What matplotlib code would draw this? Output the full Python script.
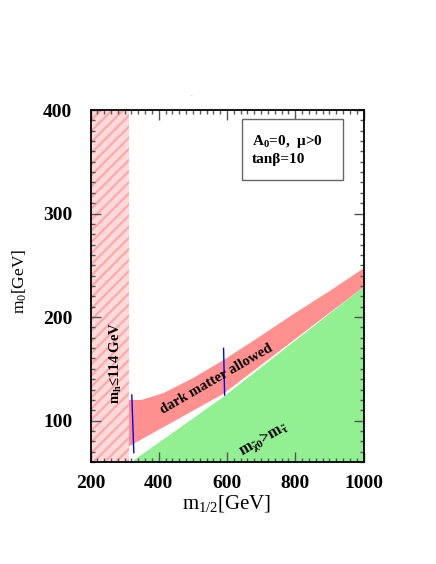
import numpy as np
import matplotlib
matplotlib.use("Agg")
import matplotlib.pyplot as plt
from matplotlib.patches import Rectangle
from matplotlib.ticker import MultipleLocator

plt.rcParams['font.family'] = ['Liberation Serif', 'DejaVu Serif']
plt.rcParams['mathtext.fontset'] = 'custom'
plt.rcParams['mathtext.rm'] = 'Liberation Serif'
plt.rcParams['mathtext.it'] = 'Liberation Serif:italic'
plt.rcParams['mathtext.bf'] = 'Liberation Serif:bold'
plt.rcParams['mathtext.default'] = 'regular'
plt.rcParams['hatch.linewidth'] = 1.6

# m_h <= 114 GeV excluded strip
mh_x = [200, 312]

# stau LSP region (green), upper edge
stau_x = [320, 590, 1000]
stau_y = [60, 123, 229]

# dark matter allowed band (red)
band_top_x = [312, 350, 414, 500, 590, 700, 800, 900, 1000]
band_top_y = [120, 120, 126.6, 141, 158.5, 182, 204, 225, 247]
band_bot_x = [312, 590, 1000]
band_bot_y = [75, 126, 229]

# blue vertical markers
blue1_x = [321, 327]
blue1_y = [124.7, 69]
blue2_x = [590, 593]
blue2_y = [169.8, 124.7]

x_ticks = [200, 400, 600, 800, 1000]
y_ticks = [100, 200, 300, 400]

W, H = 436, 564
fig = plt.figure(figsize=(W / 100, H / 100), dpi=100)
ax = fig.add_axes([90.5 / W, (H - 462) / H, 273 / W, 352 / H])
ax.set_xlim(200, 1000)
ax.set_ylim(60, 400)

# green region
ax.fill_between(stau_x, [60] * len(stau_x), stau_y, facecolor='#92ef92', edgecolor='none', zorder=1)

# red band
poly_x = np.r_[band_top_x, band_bot_x[::-1]]
poly_y = np.r_[band_top_y, band_bot_y[::-1]]
ax.fill(poly_x, poly_y, facecolor='#ff9090', edgecolor='none', zorder=1)

# hatched higgs strip
ax.fill_between(mh_x, [60, 60], [400, 400], facecolor='#ffdada', edgecolor='#ffa8a8',
                hatch='///', linewidth=0, zorder=1)

ax.plot(blue1_x, blue1_y, color='#0000ff', lw=1.0, zorder=3)
ax.plot(blue2_x, blue2_y, color='#0000ff', lw=1.0, zorder=3)

ax.xaxis.set_major_locator(MultipleLocator(200))
ax.xaxis.set_minor_locator(MultipleLocator(20))
ax.yaxis.set_major_locator(MultipleLocator(100))
ax.yaxis.set_minor_locator(MultipleLocator(10))
ax.set_xticks(x_ticks)
ax.set_yticks(y_ticks)
ax.tick_params(which='both', direction='in', top=True, right=True, color='#555555', width=1.0)
ax.tick_params(which='major', length=7)
ax.tick_params(which='minor', length=3)
ax.tick_params(axis='x', which='major', pad=9, labelsize=14)
ax.tick_params(axis='y', which='major', pad=13, labelsize=14)
for lab in ax.get_xticklabels() + ax.get_yticklabels():
    lab.set_fontweight('bold')
for s in ax.spines.values():
    s.set_linewidth(1.3)
    s.set_zorder(4)

# labels inside the plot
ax.text(273.5, 156, r'm$_\mathbf{h}$≤114 GeV', rotation=90, ha='center', va='center',
        fontsize=10.5, fontweight='bold', zorder=5)
ax.text(570, 140, 'dark matter allowed', rotation=30, ha='center', va='center',
        fontsize=10.5, fontweight='bold', rotation_mode='anchor', zorder=5)
ax.text(710, 81, r'm$_{\tilde{\chi}0}$>m$_{\tilde{\tau}}$', rotation=30, ha='center', va='center',
        fontsize=11.5, fontweight='bold', rotation_mode='anchor', zorder=5)

# info box
fig.patches.append(Rectangle((242.3 / W, 1 - 180 / H), 101 / W, 60.7 / H,
                             transform=fig.transFigure, facecolor='white',
                             edgecolor='#666666', lw=1.0, zorder=5))
fig.text(251.7 / W, 1 - 145 / H, r'A$_\mathbf{0}$=0,  μ>0', fontsize=11, fontweight='bold',
         va='baseline', zorder=6)
fig.text(251.7 / W, 1 - 163.3 / H, 'tanβ=10', fontsize=11, fontweight='bold',
         va='baseline', zorder=6)

# axis titles
fig.text(227 / W, 1 - 503 / H, r'm$_{1/2}$[GeV]', fontsize=15, ha='center', va='center')
fig.text(20 / W, 1 - 281 / H, r'm$_0$[GeV]', fontsize=12.5, ha='center', va='center', rotation=90)

fig.text(191.7 / W, 1 - 95 / H, '.', fontsize=5, color='#666666', ha='center', va='center')

fig.savefig('out.png', dpi=100)
